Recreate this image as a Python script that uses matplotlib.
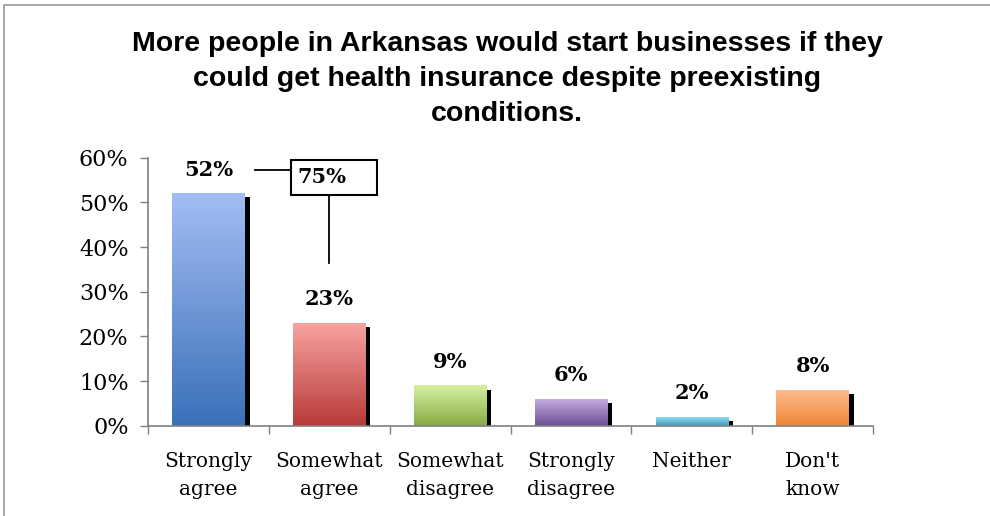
import numpy as np
import matplotlib
matplotlib.use("Agg")
import matplotlib.pyplot as plt
from matplotlib.colors import LinearSegmentedColormap
from matplotlib.patches import Rectangle

# ---- data ----
categories = ["Strongly\nagree", "Somewhat\nagree", "Somewhat\ndisagree",
              "Strongly\ndisagree", "Neither", "Don't\nknow"]
values = [52, 23, 9, 6, 2, 8]
yticks = [0, 10, 20, 30, 40, 50, 60]
ytick_labels = ["0%", "10%", "20%", "30%", "40%", "50%", "60%"]
callout_total = values[0] + values[1]  # 75%
title = ("More people in Arkansas would start businesses if they\n"
         "could get health insurance despite preexisting\nconditions.")

grad_colors = [("#a3bdf4", "#3a70b8"), ("#f8a3a0", "#b73a38"),
               ("#d6f2a2", "#86aa44"), ("#c2abdf", "#6b4f93"),
               ("#92d8f0", "#3b9cbd"), ("#fdbb8c", "#ef8536")]

W, H = 990, 516
fig = plt.figure(figsize=(W / 100, H / 100), dpi=100)
fig.patch.set_facecolor("white")

# outer frame (only left/top visible in reference)
fig.add_artist(Rectangle((4 / W, -0.1), 1.2, 1 - 5 / H + 0.1, transform=fig.transFigure,
                         fill=False, edgecolor="#9a9a9a", linewidth=1.2))

ax = fig.add_axes([148 / W, 90.3 / H, (873 - 148) / W, 268 / H])
x = np.arange(len(values))
bw = 0.6
sh_dx, sh_dy = 0.041, 0.9

# shadows
ax.bar(x + sh_dx, [max(v - sh_dy, 0.3) for v in values], width=bw, color="black", zorder=1)
bars = ax.bar(x, values, width=bw, color="none", zorder=2)
for b, (ctop, cbot) in zip(bars, grad_colors):
    cmap = LinearSegmentedColormap.from_list("g", [cbot, ctop])
    grad = np.linspace(0, 1, 256).reshape(-1, 1)
    x0, y0 = b.get_x(), b.get_y()
    ax.imshow(grad, cmap=cmap, origin="lower", aspect="auto",
              extent=[x0, x0 + b.get_width(), y0, y0 + b.get_height()], zorder=2)

for xi, v in zip(x, values):
    ax.text(xi, v + 5.3, f"{v}%", ha="center", va="center", fontsize=15,
            fontweight="bold", family="DejaVu Serif", color="black", zorder=5)

# callout for combined agree
lab_y = values[0] + 5.3
box_x0, box_x1, box_y0, box_y1 = 0.683, 1.395, 51.6, 59.4
ax.plot([0.386, box_x0], [lab_y, lab_y], color="black", lw=1.3, zorder=4, clip_on=False)
ax.plot([1, 1], [box_y0, 36.4], color="black", lw=1.3, zorder=4, clip_on=False)
ax.add_patch(Rectangle((box_x0, box_y0), box_x1 - box_x0, box_y1 - box_y0, fill=True,
                       facecolor="white", edgecolor="black", lw=1.5, zorder=4, clip_on=False))
ax.text(box_x0 + 0.05, (box_y0 + box_y1) / 2 + 0.2, f"{callout_total}%", ha="left", va="center",
        fontsize=15, fontweight="bold", family="DejaVu Serif", zorder=5)

ax.set_xlim(-0.5, len(values) - 0.5)
ax.set_ylim(0, 60)
ax.set_yticks(yticks)
ax.set_yticklabels(ytick_labels, family="DejaVu Serif", fontsize=16)
ax.set_xticks(np.arange(-0.5, len(values), 1.0))
ax.set_xticklabels([])
ax.set_xticks(x, minor=True)
ax.set_xticklabels(categories, minor=True, family="DejaVu Serif", fontsize=14.5, linespacing=1.6)
ax.tick_params(axis="x", which="major", length=6, width=1, color="#808080", direction="out")
ax.tick_params(axis="x", which="minor", length=0, pad=19)
ax.tick_params(axis="y", length=6, width=1, color="#808080", direction="out", pad=8)
for s in ["top", "right"]:
    ax.spines[s].set_visible(False)
for s in ["left", "bottom"]:
    ax.spines[s].set_color("#808080")
    ax.spines[s].set_linewidth(1.2)
ax.set_facecolor("none")

fig.text(507 / W, 1 - 31 / H, title, ha="center", va="top", fontsize=20.5,
         fontweight="bold", family="Liberation Sans", linespacing=1.45)

fig.savefig("out.png", dpi=100, facecolor="white")
